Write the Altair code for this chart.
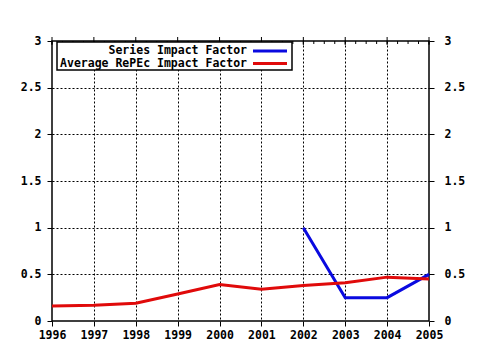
import altair as alt
import pandas as pd

# ---- data ----
years = [1996, 1997, 1998, 1999, 2000, 2001, 2002, 2003, 2004, 2005]
avg_impact = [0.16, 0.17, 0.19, 0.29, 0.39, 0.34, 0.38, 0.41, 0.47, 0.45]
series_years = [2002, 2003, 2004, 2005]
series_impact = [1.0, 0.25, 0.25, 0.5]
y_tick_values = [0, 0.5, 1, 1.5, 2, 2.5, 3]
x_tick_values = [1996 + q * 0.25 for q in range(37)]
legend_labels = ["Series Impact Factor", "Average RePEc Impact Factor"]
colors = ["#0a0ae0", "#e00a0a"]

FONT = "DejaVu Sans Mono"
FS = 11.5

avg_df = pd.DataFrame({"year": years, "value": avg_impact})
ser_df = pd.DataFrame({"year": series_years, "value": series_impact})
tick_df = pd.DataFrame({"t": x_tick_values})
major_df = pd.DataFrame({"t": years})

xscale = alt.Scale(domain=[1996, 2005], nice=False, zero=False)
yscale = alt.Scale(domain=[0, 3], nice=False, zero=True)

x_axis = alt.Axis(
    values=x_tick_values, format="d",
    labelExpr="datum.value % 1 === 0 ? datum.label : ''",
    grid=True, gridColor="black", gridDash=[2, 2],
    gridOpacity={"condition": {"test": "datum.value % 1 === 0 && datum.value > 1996 && datum.value < 2005", "value": 1}, "value": 0},
    tickColor="black",
    tickSize={"condition": {"test": "datum.value % 1 === 0", "value": 5}, "value": 3},
    domain=False, labelFont=FONT, labelFontWeight="bold", labelFontSize=FS,
    labelColor="black", labelPadding=3, title=None, labelFlush=False,
    labelOverlap=False,
)

left_axis = alt.Axis(
    orient="left", values=y_tick_values, format="~g", grid=True,
    gridColor="black", gridDash=[2, 2],
    gridOpacity={"condition": {"test": "datum.value > 0 && datum.value < 3", "value": 1}, "value": 0},
    tickColor="black", tickSize=5, domain=False, labelFont=FONT,
    labelFontWeight="bold", labelFontSize=FS, labelColor="black",
    labelPadding=6, title=None, labelFlush=False,
)
right_axis = alt.Axis(
    orient="right", values=y_tick_values, format="~g", grid=False,
    tickColor="black", tickSize=5, domain=False, labelFont=FONT,
    labelFontWeight="bold", labelFontSize=FS, labelColor="black",
    labelPadding=10, title=None, labelFlush=False,
)

X = lambda f: alt.X(f, scale=xscale, axis=x_axis)

blue = alt.Chart(ser_df).mark_line(color=colors[0], strokeWidth=3).encode(
    x=X("year:Q"), y=alt.Y("value:Q", scale=yscale, axis=right_axis)
)
red = alt.Chart(avg_df).mark_line(color=colors[1], strokeWidth=3).encode(
    x=X("year:Q"), y=alt.Y("value:Q", scale=yscale, axis=left_axis)
)

top_minor = alt.Chart(tick_df).mark_rule(color="black", strokeWidth=1).encode(
    x=X("t:Q"), y=alt.value(0), y2=alt.value(3)
)
top_major = alt.Chart(major_df).mark_rule(color="black", strokeWidth=1).encode(
    x=X("t:Q"), y=alt.value(-4), y2=alt.value(4)
)

legend_box = alt.Chart(pd.DataFrame({"k": [0]})).mark_rect(
    fill="white", stroke="black", strokeWidth=1.5
).encode(x=alt.value(5), x2=alt.value(240), y=alt.value(1), y2=alt.value(29))

legend_layers = []
for i, (lab, col) in enumerate(zip(legend_labels, colors)):
    d = pd.DataFrame({"label": [lab]})
    legend_layers.append(
        alt.Chart(d).mark_text(
            align="right", baseline="middle", font=FONT, fontWeight="bold",
            fontSize=FS, color="black"
        ).encode(x=alt.value(195), y=alt.value(10 + 12.5 * i), text="label:N")
    )
    legend_layers.append(
        alt.Chart(d).mark_rule(color=col, strokeWidth=3).encode(
            x=alt.value(201), x2=alt.value(235), y=alt.value(10 + 12.5 * i)
        )
    )

chart = alt.layer(
    blue, red, top_minor, top_major, legend_box, *legend_layers
).resolve_scale(y="independent").properties(
    width=377, height=280,
    padding={"left": 52, "top": 41, "right": 51, "bottom": 29},
    autosize=alt.AutoSizeParams(type="none"),
    background="white",
).configure_view(stroke="black", strokeWidth=1.5)

chart.save("out.html", embed_options={"renderer": "svg", "actions": False})
